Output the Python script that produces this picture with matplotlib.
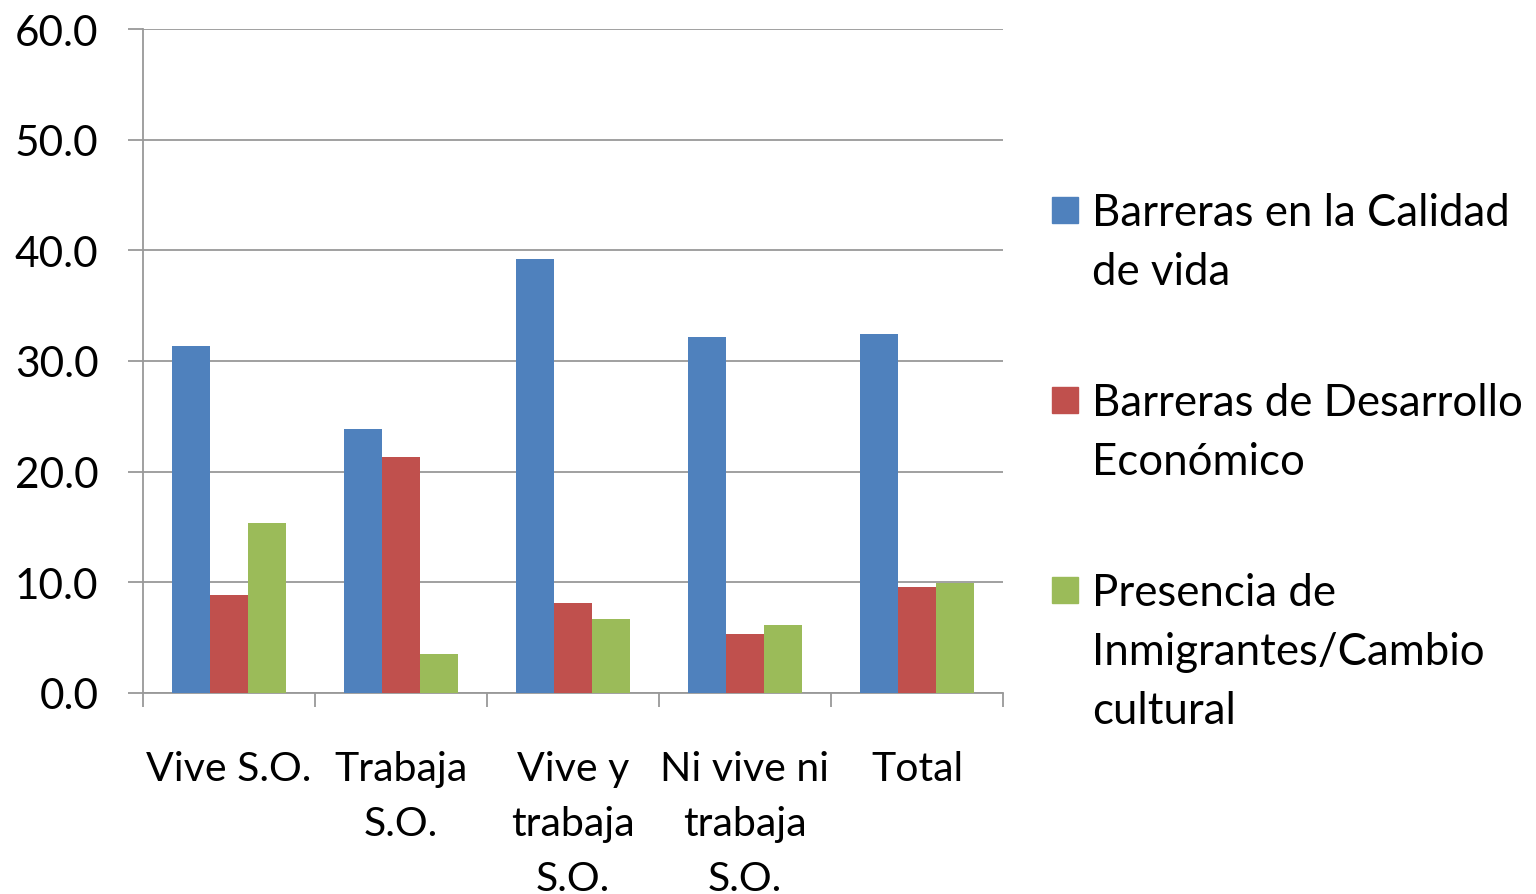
import numpy as np
import matplotlib.pyplot as plt
from matplotlib.patches import Rectangle
from matplotlib.ticker import MultipleLocator, FormatStrFormatter

plt.rcParams['font.family'] = ['Lato', 'DejaVu Sans']

categories = ["Vive S.O.", "Trabaja\nS.O.", "Vive y\ntrabaja\nS.O.", "Ni vive ni\ntrabaja\nS.O.", "Total"]
series_names = ["Barreras en la Calidad\nde vida",
                "Barreras de Desarrollo\nEconómico",
                "Presencia de\nInmigrantes/Cambio\ncultural"]
calidad_vida = [31.4, 23.9, 39.2, 32.2, 32.4]
desarrollo = [8.9, 21.3, 8.1, 5.3, 9.6]
inmigrantes = [15.4, 3.5, 6.7, 6.1, 9.9]
colors = ["#4F81BD", "#C0504D", "#9BBB59"]

W, H = 1536, 895
fig = plt.figure(figsize=(W / 100, H / 100), dpi=100)
ax = fig.add_axes([143 / W, 1 - 694 / H, 860 / W, 664 / H])

x = np.arange(len(categories))
w = 0.22
for i, vals in enumerate([calidad_vida, desarrollo, inmigrantes]):
    ax.bar(x + (i - 1) * w, vals, width=w, color=colors[i], zorder=3)

ax.set_xlim(-0.5, len(categories) - 0.5)
ax.set_ylim(0, 60)
ax.yaxis.set_major_locator(MultipleLocator(10))
ax.yaxis.set_major_formatter(FormatStrFormatter('%.1f'))
ax.grid(axis='y', color='#999999', linewidth=1.3, zorder=0)

ax.set_xticks(x)
ax.set_xticklabels(categories, fontsize=29.5, linespacing=1.6, va='top')
ax.set_xticks(np.arange(len(categories) + 1) - 0.5, minor=True)
ax.tick_params(axis='x', which='major', length=0, pad=41)
ax.tick_params(axis='x', which='minor', length=10, color='#999999', width=1.3)
ax.tick_params(axis='y', length=11, color='#999999', width=1.3, labelsize=30.5, pad=21)

for s in ['top', 'right']:
    ax.spines[s].set_visible(False)
for s in ['left', 'bottom']:
    ax.spines[s].set_color('#999999')
    ax.spines[s].set_linewidth(1.3)

# legend drawn by hand so the swatch sits beside the first line
for i, name in enumerate(series_names):
    yc = 211 + 190 * i
    fig.patches.append(Rectangle((1052 / W, 1 - (yc + 13) / H), 26 / W, 26 / H,
                                 transform=fig.transFigure, color=colors[i]))
    fig.text(1092 / W, 1 - (yc - 18) / H, name, fontsize=31.5, va='top', ha='left',
             linespacing=1.55)

fig.savefig('out.png', dpi=100)
